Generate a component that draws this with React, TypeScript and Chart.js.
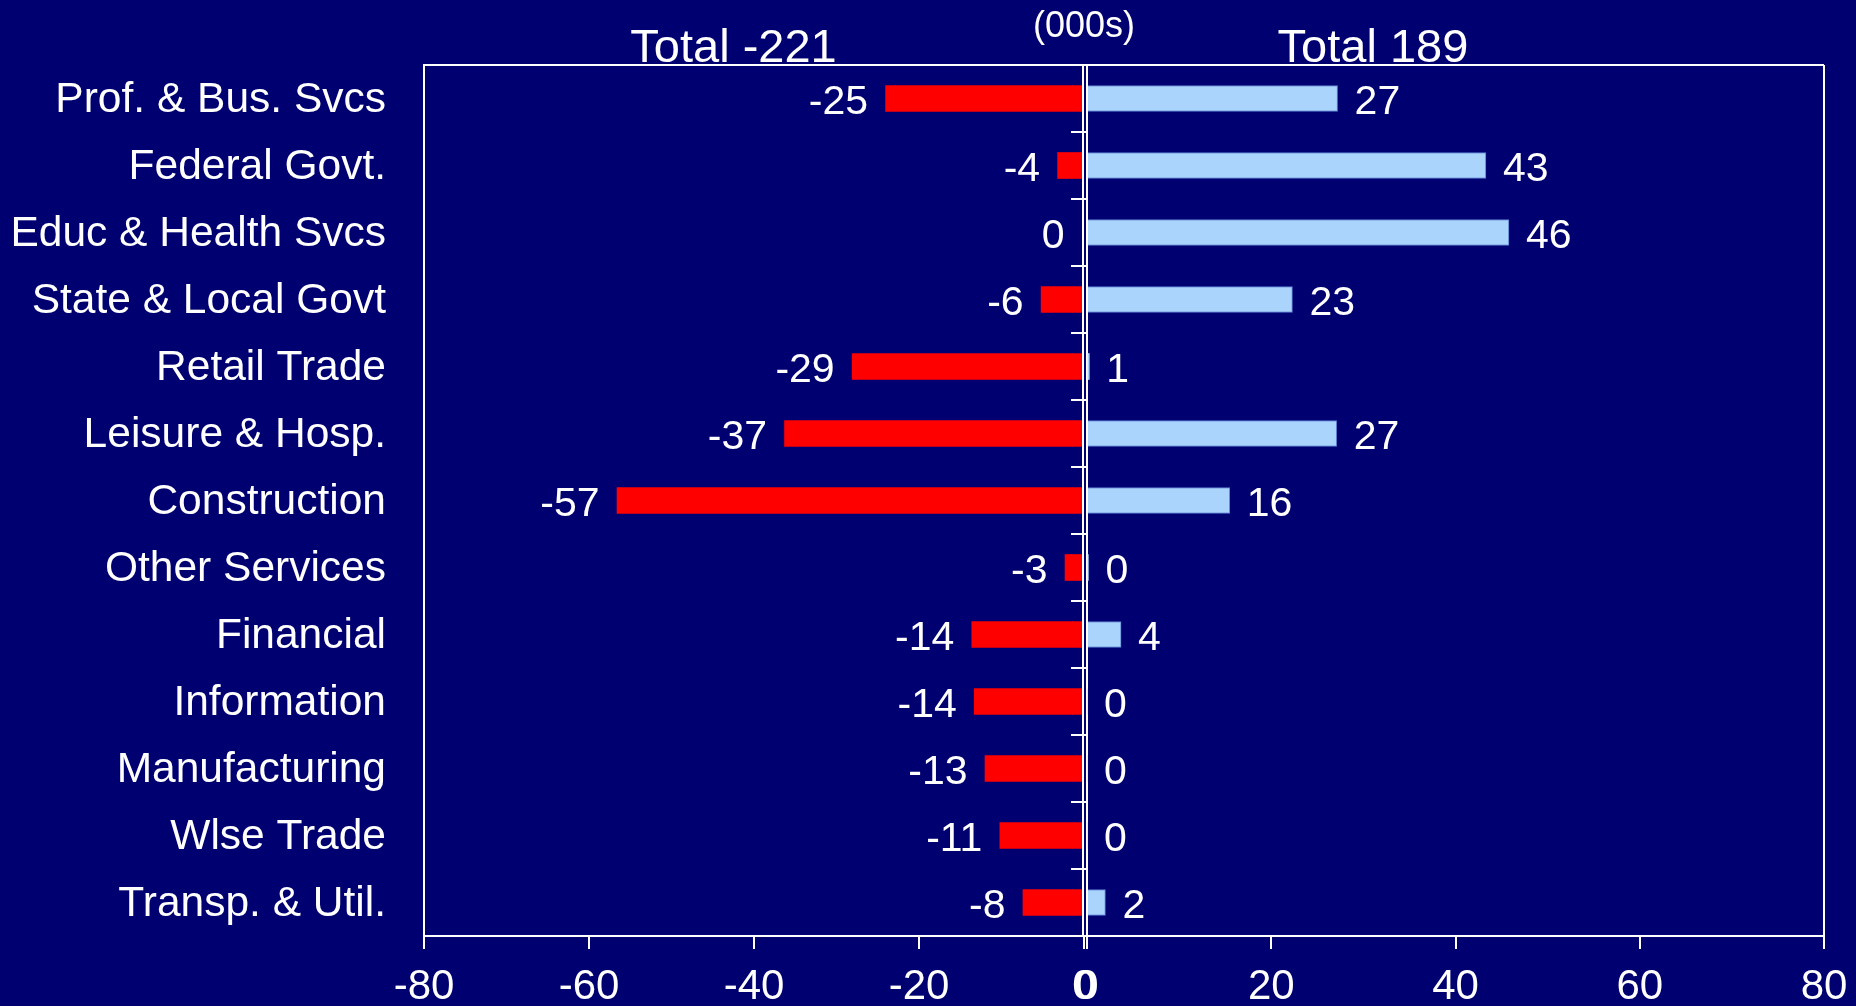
import React, { useEffect, useRef } from "react";
import { Chart, registerables } from "chart.js";

Chart.register(...registerables);

const categories = [
  "Prof. & Bus. Svcs",
  "Federal Govt.",
  "Educ & Health Svcs",
  "State & Local Govt",
  "Retail Trade",
  "Leisure & Hosp.",
  "Construction",
  "Other Services",
  "Financial",
  "Information",
  "Manufacturing",
  "Wlse Trade",
  "Transp. & Util.",
];
// bar lengths
const losses = [-24.05, -3.2, 0, -5.2, -28.1, -36.3, -56.6, -2.3, -13.6, -13.3, -12.0, -10.2, -7.4];
const gains = [27.2, 43.3, 45.8, 22.3, 0.25, 27.1, 15.5, 0.15, 3.7, 0, 0, 0, 2.0];
// value labels as printed on the picture
const lossLabels = ["-25", "-4", "0", "-6", "-29", "-37", "-57", "-3", "-14", "-14", "-13", "-11", "-8"];
const gainLabels = ["27", "43", "46", "23", "1", "27", "16", "0", "4", "0", "0", "0", "2"];
const leftRange = [-80, 0];
const rightRange = [0, 80];
const tickStep = 20;
const leftTitle = "Total -221";
const rightTitle = "Total 189";
const unitLabel = "(000s)";

const BG = "#000070";
const FONT = '"Liberation Sans", Arial, sans-serif';
const WHITE = "#ffffff";

const LEFT_W = 1110;
const RIGHT_X = 1000;
const RIGHT_W = 900;
const H = 1006;

function labelPlugin(side: "left" | "right") {
  return {
    id: "labels_" + side,
    afterDraw(chart: any) {
      const ctx = chart.ctx;
      const ca = chart.chartArea;
      ctx.save();
      // frame
      ctx.strokeStyle = WHITE;
      ctx.lineWidth = 2;
      ctx.beginPath();
      ctx.moveTo(ca.left, ca.top);
      ctx.lineTo(ca.right, ca.top);
      if (side === "left") {
        ctx.moveTo(ca.right - 1, ca.top);
        ctx.lineTo(ca.right - 1, ca.bottom);
      } else {
        ctx.moveTo(ca.right, ca.top);
        ctx.lineTo(ca.right, ca.bottom);
      }
      ctx.stroke();
      // values
      const meta = chart.getDatasetMeta(0);
      const labels = side === "left" ? lossLabels : gainLabels;
      ctx.fillStyle = WHITE;
      ctx.font = "41px " + FONT;
      ctx.textBaseline = "alphabetic";
      meta.data.forEach((el: any, i: number) => {
        const t = labels[i];
        if (side === "left") {
          ctx.textAlign = "right";
          ctx.fillText(t, Math.min(el.x, ca.right - 2) - 17.5, el.y + 15);
        } else {
          ctx.textAlign = "left";
          ctx.fillText(t, el.x + 17, el.y + 15);
        }
      });
      // titles
      const w = ca.right - ca.left;
      ctx.textAlign = "center";
      ctx.font = "47px " + FONT;
      if (side === "left") {
        ctx.fillText(leftTitle, ca.left + w * 0.469, 62);
      } else {
        ctx.fillText(rightTitle, ca.left + w * 0.388, 62);
        ctx.font = "36px " + FONT;
        ctx.fillText(unitLabel, ca.left - 3, 37);
      }
      ctx.restore();
    },
  };
}

export default function App() {
  const leftRef = useRef<HTMLCanvasElement | null>(null);
  const rightRef = useRef<HTMLCanvasElement | null>(null);

  useEffect(() => {
    const axisFont = { family: FONT, size: 42 };
    const catFont = { family: FONT, size: 42.5 };
    const xScale = (range: number[], hAfterFit: number) => ({
      type: "linear" as const,
      min: range[0],
      max: range[1],
      ticks: {
        stepSize: tickStep,
        color: WHITE,
        font: axisFont,
        padding: 13,
        maxRotation: 0,
        autoSkip: false,
      },
      grid: {
        drawOnChartArea: false,
        drawTicks: true,
        tickLength: 13,
        color: WHITE,
        lineWidth: 2,
      },
      border: { display: true, color: WHITE, width: 2 },
      afterFit: (s: any) => {
        s.height = hAfterFit;
      },
    });

    const left = new Chart(leftRef.current!, {
      type: "bar",
      data: {
        labels: categories,
        datasets: [
          {
            data: losses,
            backgroundColor: "#ff0000",
            borderWidth: 0,
            barThickness: 26,
          },
        ],
      },
      options: {
        indexAxis: "y",
        responsive: false,
        animation: false,
        layout: { padding: { top: 65, right: LEFT_W - 1084, left: 0, bottom: 0 } },
        plugins: { legend: { display: false }, tooltip: { enabled: false } },
        scales: {
          x: xScale(leftRange, 70),
          y: {
            type: "category",
            position: "left",
            ticks: { color: WHITE, font: catFont, padding: 38, labelOffset: 2 },
            grid: { drawOnChartArea: false, drawTicks: false },
            border: { display: true, color: WHITE, width: 2 },
            afterFit: (s: any) => {
              s.width = 424;
            },
          },
        },
      } as any,
      plugins: [labelPlugin("left")],
    });

    const right = new Chart(rightRef.current!, {
      type: "bar",
      data: {
        labels: categories,
        datasets: [
          {
            data: gains,
            backgroundColor: "#aad4fc",
            borderColor: "#5a7fd0",
            borderWidth: (c: any) => (c.raw < 0.5 ? 0 : 1),
            barThickness: 26,
          },
        ],
      },
      options: {
        indexAxis: "y",
        responsive: false,
        animation: false,
        layout: { padding: { top: 65, right: RIGHT_W - (1824 - RIGHT_X), left: 0, bottom: 0 } },
        plugins: { legend: { display: false }, tooltip: { enabled: false } },
        scales: {
          x: xScale(rightRange, 70),
          y: {
            type: "category",
            position: "left",
            ticks: { display: false },
            grid: {
              drawOnChartArea: false,
              drawTicks: true,
              tickLength: 16,
              color: WHITE,
              lineWidth: 2,
              offset: true,
            },
            border: { display: true, color: WHITE, width: 2 },
            afterFit: (s: any) => {
              s.width = 1087 - RIGHT_X;
            },
          },
        },
      } as any,
      plugins: [labelPlugin("right")],
    });

    return () => {
      left.destroy();
      right.destroy();
    };
  }, []);

  return (
    <div
      style={{
        position: "fixed",
        left: 0,
        top: 0,
        width: 1856,
        height: H,
        background: BG,
        overflow: "hidden",
      }}
    >
      <canvas
        ref={leftRef}
        width={LEFT_W}
        height={H}
        style={{ position: "absolute", left: 0, top: 0, width: LEFT_W, height: H }}
      />
      <canvas
        ref={rightRef}
        width={RIGHT_W}
        height={H}
        style={{ position: "absolute", left: RIGHT_X, top: 0, width: RIGHT_W, height: H }}
      />
    </div>
  );
}
